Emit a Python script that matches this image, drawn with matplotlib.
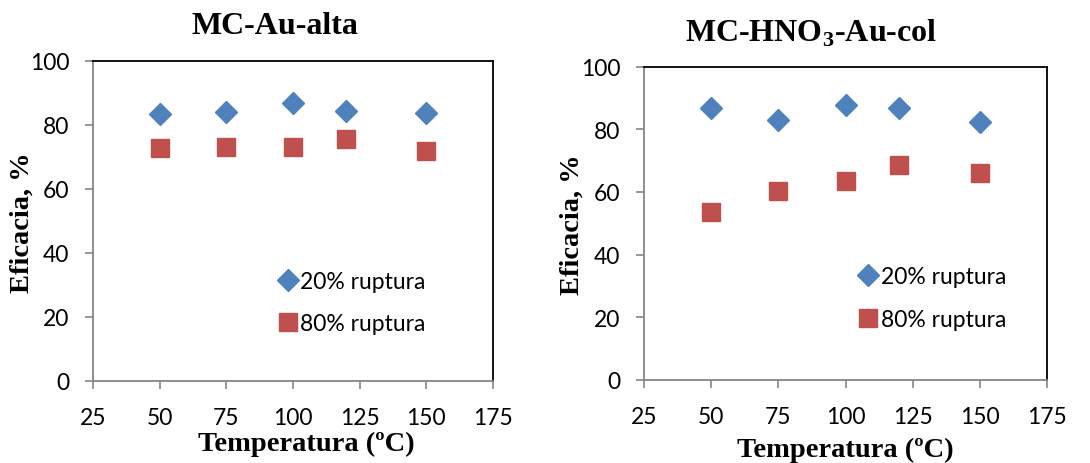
import matplotlib
matplotlib.use("Agg")
import matplotlib.pyplot as plt

# Temperatures (ºC) and efficiencies (%)
temperatures = [50, 75, 100, 120, 150]

alta_20 = [83.3, 84.1, 86.9, 84.5, 83.8]
alta_80 = [72.9, 73.0, 73.2, 75.6, 71.9]

col_20 = [86.9, 83.1, 87.8, 86.8, 82.2]
col_80 = [53.5, 60.4, 63.6, 68.7, 66.0]

series_labels = ["20% ruptura", "80% ruptura"]
x_ticks = [25, 50, 75, 100, 125, 150, 175]
y_ticks = [0, 20, 40, 60, 80, 100]

BLUE = "#4F81BD"
RED = "#C0504D"
GRAY = "#868686"

plt.rcParams["mathtext.fontset"] = "custom"
plt.rcParams["mathtext.rm"] = "Liberation Serif"
plt.rcParams["mathtext.bf"] = "Liberation Serif:bold"

serif_bold = dict(family="Liberation Serif", weight="bold")
tick_font = "Lato"

fig = plt.figure(figsize=(10.90, 4.64), dpi=100)

panels = [
    dict(rect=[93 / 1090, 1 - 382 / 464, 400 / 1090, 320 / 464],
         y20=alta_20, y80=alta_80, title="MC-Au-alta",
         title_xy=(275, 26.5), ylab_xy=(22, 223), xlab_xy=(306, 444),
         leg_anchor=(0.458, 0.345)),
    dict(rect=[644 / 1090, 1 - 380.7 / 464, 403 / 1090, 313 / 464],
         y20=col_20, y80=col_80, title=r"MC-HNO$_{\mathbf{3}}$-Au-col",
         title_xy=(811, 33), ylab_xy=(572, 225), xlab_xy=(845, 450),
         leg_anchor=(0.528, 0.362)),
]

for p in panels:
    ax = fig.add_axes(p["rect"])
    ax.plot(temperatures, p["y20"], linestyle="none", marker="D", markersize=11.5,
            color=BLUE, markeredgecolor=BLUE, label=series_labels[0])
    ax.plot(temperatures, p["y80"], linestyle="none", marker="s", markersize=13.5,
            color=RED, markeredgecolor=RED, label=series_labels[1])
    ax.set_xlim(25, 175)
    ax.set_ylim(0, 100)
    ax.set_xticks(x_ticks)
    ax.set_yticks(y_ticks)
    for side in ("left", "bottom"):
        ax.spines[side].set_color(GRAY)
        ax.spines[side].set_linewidth(1.3)
    for side in ("top", "right"):
        ax.spines[side].set_color("black")
        ax.spines[side].set_linewidth(1.3)
    ax.tick_params(axis="both", direction="out", length=6, width=1.2, color=GRAY,
                   labelsize=16.5)
    ax.tick_params(axis="y", pad=11)
    ax.tick_params(axis="x", pad=13)
    for lab in ax.get_xticklabels() + ax.get_yticklabels():
        lab.set_fontfamily(tick_font)

    ax.legend(loc="upper left", bbox_to_anchor=p["leg_anchor"], frameon=False,
              prop=dict(family=tick_font, size=16.5), handletextpad=0.05,
              labelspacing=0.95, handlelength=1.0, borderpad=0, borderaxespad=0)

    # titles and axis labels placed in figure pixels (from top-left)
    fig.text(p["title_xy"][0] / 1090, 1 - p["title_xy"][1] / 464, p["title"],
             ha="center", va="center", fontsize=23, **serif_bold)
    fig.text(p["ylab_xy"][0] / 1090, 1 - p["ylab_xy"][1] / 464, "Eficacia, %",
             ha="center", va="center", rotation=90, fontsize=20.5, **serif_bold)
    fig.text(p["xlab_xy"][0] / 1090, 1 - p["xlab_xy"][1] / 464, "Temperatura (ºC)",
             ha="center", va="center", fontsize=20.5, **serif_bold)

fig.savefig("out.png", dpi=100)
